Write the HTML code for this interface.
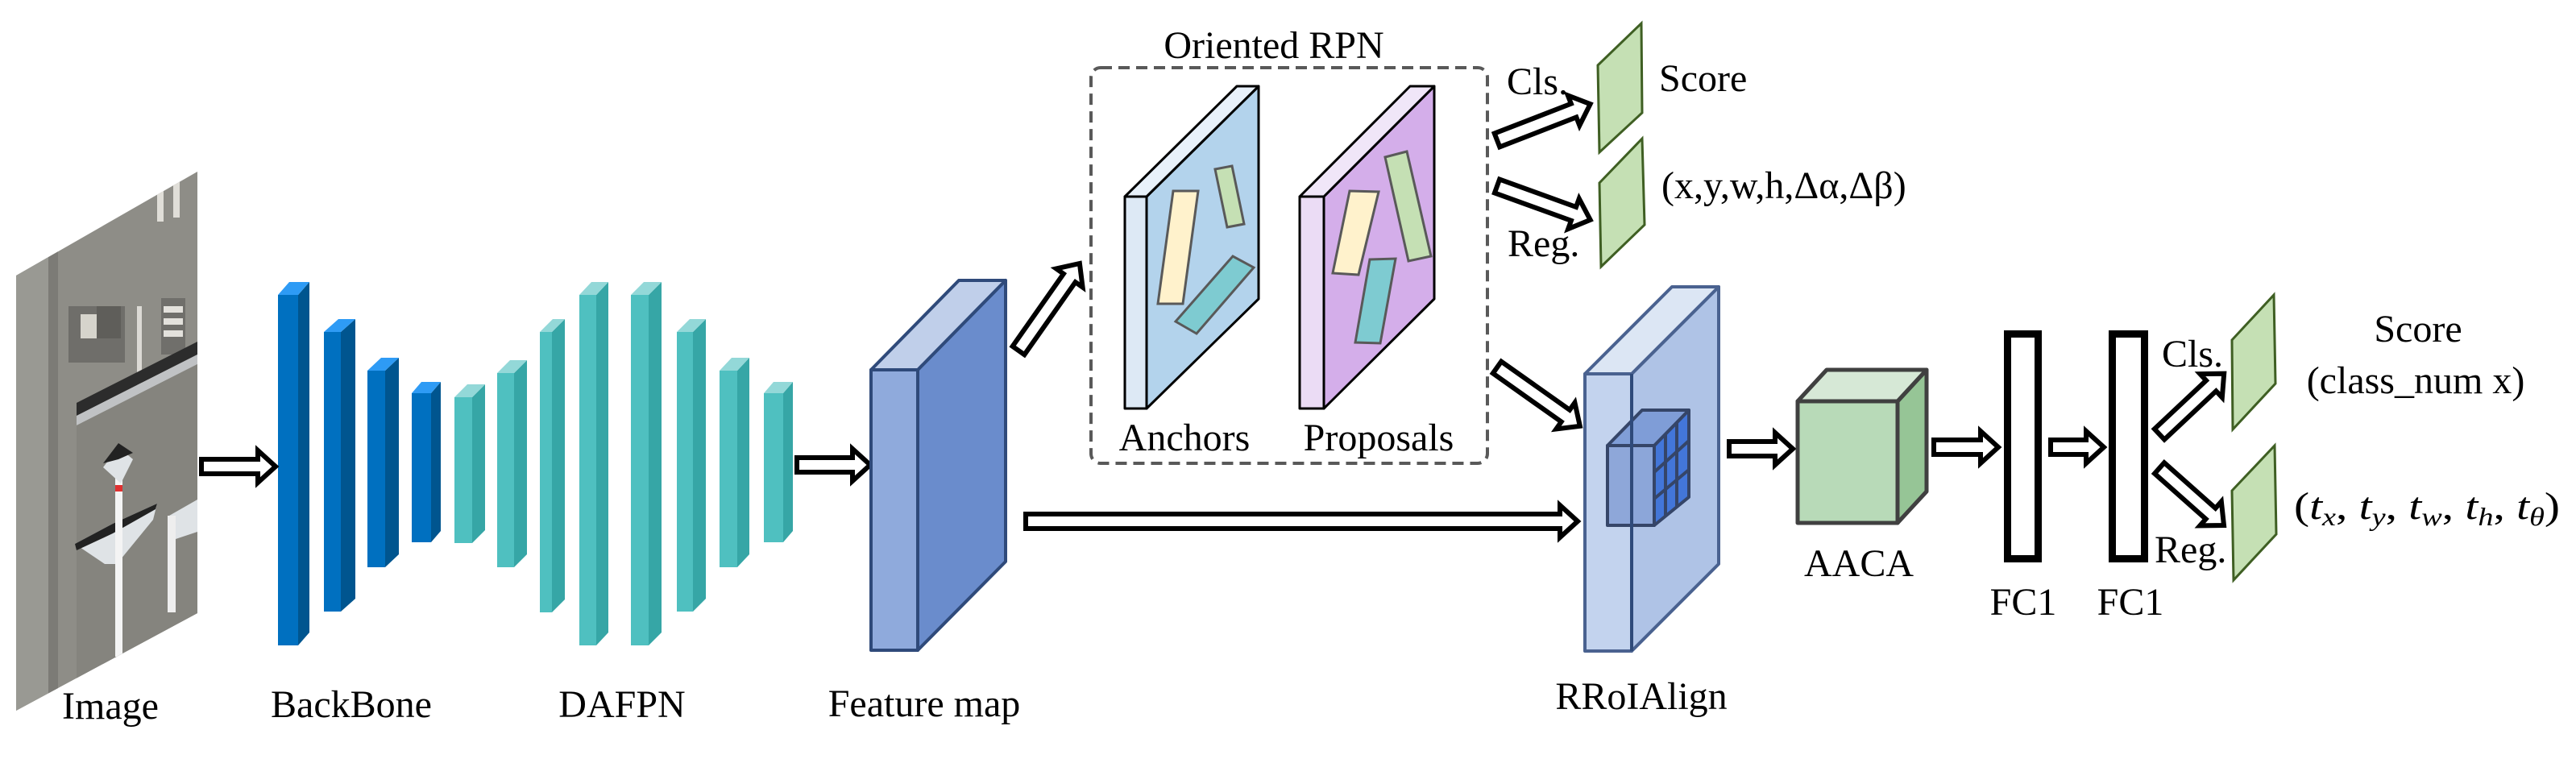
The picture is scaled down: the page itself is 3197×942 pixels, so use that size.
<!DOCTYPE html>
<html><head><meta charset="utf-8"><style>
html,body{margin:0;padding:0;background:#fff;}
svg{display:block;}
svg text{font-family:"Liberation Serif","Noto Serif CJK SC","DejaVu Serif",serif !important;font-size:48px;fill:#000;}
</style></head><body>
<svg width="3197" height="942" viewBox="0 0 3197 942" xmlns="http://www.w3.org/2000/svg">
<defs>
<clipPath id="photo"><polygon points="20,342 245,213 245,761 20,882"/></clipPath>
</defs>

<g clip-path="url(#photo)">
<rect x="0" y="200" width="260" height="700" fill="#8e8d87"/>
<rect x="20" y="300" width="40" height="600" fill="#999993"/>
<rect x="60" y="300" width="12" height="600" fill="#7c7b76"/>
<rect x="85" y="380" width="70" height="70" fill="#6f6e6a"/>
<rect x="100" y="390" width="22" height="30" fill="#d6d4cc"/>
<rect x="120" y="380" width="30" height="40" fill="#5f5e5a"/>
<rect x="200" y="370" width="30" height="70" fill="#706f6b"/>
<rect x="203" y="380" width="24" height="8" fill="#e3e1dc"/>
<rect x="203" y="395" width="24" height="8" fill="#e3e1dc"/>
<rect x="203" y="410" width="24" height="8" fill="#e3e1dc"/>
<rect x="170" y="380" width="6" height="100" fill="#dcdad5"/>
<rect x="195" y="225" width="8" height="50" fill="#e0ded8"/>
<rect x="215" y="220" width="8" height="50" fill="#e0ded8"/>
<polygon points="95,500 245,424 245,440 95,516" fill="#2c2c2c"/>
<polygon points="95,516 245,440 245,452 95,528" fill="#c0c2c4"/>
<polygon points="95,528 245,452 245,900 95,900" fill="#85847e"/>
<polygon points="93,675 140,650 195,625 190,645 145,700 130,700" fill="#dfe3e6"/>
<polygon points="93,675 140,650 195,625 193,632 140,662 95,683" fill="#222"/>
<rect x="143" y="575" width="9" height="240" fill="#f4f4f4"/>
<polygon points="128,580 147,555 165,570 150,600" fill="#dfe3e6"/>
<polygon points="128,575 147,550 165,562 147,570" fill="#222"/>
<rect x="143" y="602" width="9" height="8" fill="#e03030"/>
<polygon points="210,640 245,620 245,660 215,670" fill="#dfe3e6"/>
<rect x="208" y="640" width="10" height="120" fill="#eeeeee"/>
</g>

<g>
<rect x="345" y="366" width="25" height="435" fill="#0070c0"/><polygon points="370,366 384,350 384,785 370,801" fill="#00558f"/><polygon points="345,366 359,350 384,350 370,366" fill="#2e9bf5"/>
<rect x="402" y="412" width="21" height="347" fill="#0070c0"/><polygon points="423,412 441,396 441,743 423,759" fill="#00558f"/><polygon points="402,412 420,396 441,396 423,412" fill="#2e9bf5"/>
<rect x="456" y="460" width="22" height="244" fill="#0070c0"/><polygon points="478,460 495,444 495,688 478,704" fill="#00558f"/><polygon points="456,460 473,444 495,444 478,460" fill="#2e9bf5"/>
<rect x="511" y="488" width="24" height="185" fill="#0070c0"/><polygon points="535,488 547,474 547,659 535,673" fill="#00558f"/><polygon points="511,488 523,474 547,474 535,488" fill="#2e9bf5"/>
</g>
<g>
<rect x="564" y="493" width="22" height="181" fill="#4fc0c0"/><polygon points="586,493 602,477 602,658 586,674" fill="#36a6a6"/><polygon points="564,493 580,477 602,477 586,493" fill="#93d8d8"/>
<rect x="617" y="463" width="21" height="241" fill="#4fc0c0"/><polygon points="638,463 654,447 654,688 638,704" fill="#36a6a6"/><polygon points="617,463 633,447 654,447 638,463" fill="#93d8d8"/>
<rect x="670" y="412" width="15" height="348" fill="#4fc0c0"/><polygon points="685,412 701,396 701,744 685,760" fill="#36a6a6"/><polygon points="670,412 686,396 701,396 685,412" fill="#93d8d8"/>
<rect x="719" y="366" width="21" height="435" fill="#4fc0c0"/><polygon points="740,366 755,350 755,785 740,801" fill="#36a6a6"/><polygon points="719,366 734,350 755,350 740,366" fill="#93d8d8"/>
<rect x="783" y="366" width="22" height="435" fill="#4fc0c0"/><polygon points="805,366 821,350 821,785 805,801" fill="#36a6a6"/><polygon points="783,366 799,350 821,350 805,366" fill="#93d8d8"/>
<rect x="840" y="412" width="20" height="347" fill="#4fc0c0"/><polygon points="860,412 876,396 876,743 860,759" fill="#36a6a6"/><polygon points="840,412 856,396 876,396 860,412" fill="#93d8d8"/>
<rect x="893" y="460" width="22" height="244" fill="#4fc0c0"/><polygon points="915,460 930,444 930,688 915,704" fill="#36a6a6"/><polygon points="893,460 908,444 930,444 915,460" fill="#93d8d8"/>
<rect x="948" y="488" width="24" height="185" fill="#4fc0c0"/><polygon points="972,488 984,474 984,659 972,673" fill="#36a6a6"/><polygon points="948,488 960,474 984,474 972,488" fill="#93d8d8"/>
</g>

<g fill="#fff" stroke="#000" stroke-width="6" stroke-linejoin="miter">
<g transform="translate(250,579)"><polygon points="0,-9 70,-9 70,-20 92,0 70,20 70,9 0,9"/></g>
<g transform="translate(989,577)"><polygon points="0,-9 69,-9 69,-20 91,0 69,20 69,9 0,9"/></g>
<g transform="translate(1264,435) rotate(-54.9)"><polygon points="0,-9 110,-9 110,-20 132,0 110,20 110,9 0,9"/></g>
<g transform="translate(1858,174) rotate(-21.2)"><polygon points="0,-9 102,-9 102,-20 124,0 102,20 102,9 0,9"/></g>
<g transform="translate(1858,231) rotate(19.9)"><polygon points="0,-9 101,-9 101,-20 123,0 101,20 101,9 0,9"/></g>
<g transform="translate(1858,456) rotate(35.3)"><polygon points="0,-9 104,-9 104,-20 126,0 104,20 104,9 0,9"/></g>
<g transform="translate(1273,647)"><polygon points="0,-9 663,-9 663,-20 685,0 663,20 663,9 0,9"/></g>
<g transform="translate(2146,557)"><polygon points="0,-9 57,-9 57,-20 79,0 57,20 57,9 0,9"/></g>
<g transform="translate(2400,555)"><polygon points="0,-9 58,-9 58,-20 80,0 58,20 58,9 0,9"/></g>
<g transform="translate(2545,555)"><polygon points="0,-9 44,-9 44,-20 66,0 44,20 44,9 0,9"/></g>
<g transform="translate(2680,539) rotate(-43.2)"><polygon points="0,-9 88,-9 88,-20 110,0 88,20 88,9 0,9"/></g>
<g transform="translate(2680,581) rotate(41.6)"><polygon points="0,-9 85,-9 85,-20 107,0 85,20 85,9 0,9"/></g>
</g>

<g stroke="#2f4a7a" stroke-width="4" stroke-linejoin="round">
<polygon points="1139,459 1248,348 1248,697 1139,807" fill="#6a8ccc"/>
<polygon points="1081,459 1190,348 1248,348 1139,459" fill="#c0cfea"/>
<rect x="1081" y="459" width="58" height="348" fill="#8faadc"/>
</g>

<rect x="1354" y="84" width="492" height="491" rx="12" fill="none" stroke="#595959" stroke-width="4" stroke-dasharray="14,8"/>

<g stroke="#000" stroke-width="3" stroke-linejoin="round">
<polygon points="1423,244 1562,107 1562,371 1423,507" fill="#b3d3ec"/>
<polygon points="1396,244 1535,107 1562,107 1423,244" fill="#e8f1fa"/>
<rect x="1396" y="244" width="27" height="263" fill="#dde9f5"/>
</g>
<g stroke="#595959" stroke-width="3">
<polygon points="1456,237 1487,237 1468,377 1437,377" fill="#fff2cc"/>
<polygon points="1508,210 1529,206 1544,278 1523,282" fill="#c5e0b4"/>
<polygon points="1459,399 1530,318 1556,332 1485,414" fill="#7ecbd1"/>
</g>

<g stroke="#000" stroke-width="3" stroke-linejoin="round">
<polygon points="1643,244 1780,107 1780,371 1643,507" fill="#d4aeea"/>
<polygon points="1613,244 1750,107 1780,107 1643,244" fill="#f0e6f8"/>
<rect x="1613" y="244" width="30" height="263" fill="#ebdcf5"/>
</g>
<g stroke="#595959" stroke-width="3">
<polygon points="1675,237 1711,238 1686,341 1654,339" fill="#fff2cc"/>
<polygon points="1719,195 1746,188 1776,318 1748,324" fill="#c5e0b4"/>
<polygon points="1700,322 1732,321 1713,426 1682,425" fill="#7ecbd1"/>
</g>

<g fill="#c5e0b4" stroke="#3f5f23" stroke-width="3">
<polygon points="1983,81 2037,29 2038,140 1985,189"/>
<polygon points="1985,227 2038,172 2041,279 1987,331"/>
<polygon points="2770,422 2822,366 2824,476 2771,533"/>
<polygon points="2770,609 2823,553 2825,663 2772,720"/>
</g>

<g stroke="#4a6290" stroke-width="4" stroke-linejoin="round">
<polygon points="2025,464 2133,356 2133,700 2025,808" fill="#afc3e6"/>
<polygon points="1967,464 2075,356 2133,356 2025,464" fill="#dce6f4"/>
<rect x="1967" y="464" width="58" height="344" fill="#c3d3ee"/>
</g>
<g stroke="#2b3b5e" stroke-width="4" stroke-linejoin="round" opacity="0.92">
<polygon points="2053,553 2096,509 2096,617 2053,652" fill="#3a70d8"/>
<polygon points="1995,553 2038,509 2096,509 2053,553" fill="#7b9ad6"/>
<rect x="1995" y="553" width="58" height="99" fill="#8aa4d8"/>
<line x1="2067" y1="539" x2="2067" y2="641"/>
<line x1="2081" y1="524" x2="2081" y2="629"/>
<line x1="2053" y1="586" x2="2096" y2="547"/>
<line x1="2053" y1="619" x2="2096" y2="583"/>
</g>
<line x1="2025" y1="464" x2="2025" y2="808" stroke="#2f4a7a" stroke-width="4"/>

<g stroke="#404040" stroke-width="5" stroke-linejoin="round">
<polygon points="2355,498 2391,459 2391,610 2355,649" fill="#96c596"/>
<polygon points="2231,498 2267,459 2391,459 2355,498" fill="#d6e8d6"/>
<rect x="2231" y="498" width="124" height="151" fill="#b8dab8"/>
</g>

<g fill="#fff" stroke="#000" stroke-width="9">
<rect x="2491.5" y="414.5" width="38" height="279"/>
<rect x="2621.5" y="414.5" width="40" height="279"/>
</g>

<g font-size="48">
<text x="137" y="892" text-anchor="middle">Image</text>
<text x="436" y="890" text-anchor="middle">BackBone</text>
<text x="772" y="890" text-anchor="middle">DAFPN</text>
<text x="1147" y="889" text-anchor="middle">Feature map</text>
<text x="2037" y="880" text-anchor="middle">RRoIAlign</text>
<text x="2307" y="715" text-anchor="middle">AACA</text>
<text x="2511" y="763" text-anchor="middle">FC1</text>
<text x="2644" y="763" text-anchor="middle">FC1</text>
<text x="1581" y="72" text-anchor="middle">Oriented RPN</text>
<text x="1470" y="559" text-anchor="middle">Anchors</text>
<text x="1711" y="559" text-anchor="middle">Proposals</text>
<text x="1870" y="117">Cls.</text>
<text x="2059" y="113">Score</text>
<text x="1871" y="318">Reg.</text>
<text x="2062" y="246">(x,y,w,h,Δα,Δβ)</text>
<text x="2683" y="455">Cls.</text>
<text x="2674" y="698">Reg.</text>
<text x="3001" y="424" text-anchor="middle">Score</text>
<text x="2998" y="488" text-anchor="middle">(class_num x)</text>
<text x="2847" y="644" textLength="330" lengthAdjust="spacingAndGlyphs">(<tspan font-style="italic">t</tspan><tspan font-style="italic" font-size="32" dy="8">x</tspan><tspan dy="-8">,  </tspan><tspan font-style="italic">t</tspan><tspan font-style="italic" font-size="32" dy="8">y</tspan><tspan dy="-8">,  </tspan><tspan font-style="italic">t</tspan><tspan font-style="italic" font-size="32" dy="8">w</tspan><tspan dy="-8">,  </tspan><tspan font-style="italic">t</tspan><tspan font-style="italic" font-size="32" dy="8">h</tspan><tspan dy="-8">,  </tspan><tspan font-style="italic">t</tspan><tspan font-style="italic" font-size="32" dy="8">θ</tspan><tspan dy="-8">)</tspan></text>
</g>
</svg>
</body></html>
